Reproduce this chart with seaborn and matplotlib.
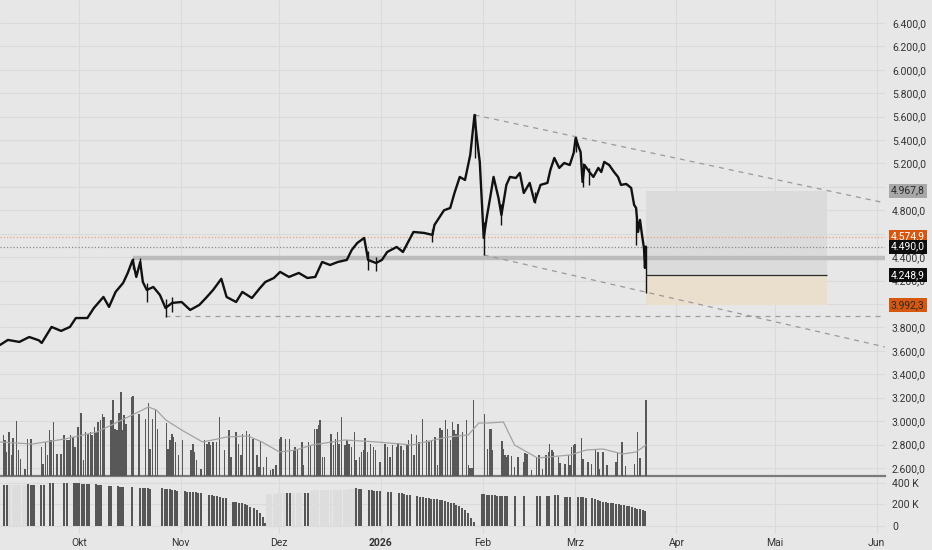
import numpy as np
import pandas as pd
import matplotlib
matplotlib.use('Agg')
import matplotlib.pyplot as plt
import seaborn as sns

# ---------------- data (x = days since 2025-09-07) ----------------
start_date = '2025-09-07'
month_dates = ['2025-10-01', '2025-11-01', '2025-12-01', '2026-01-01', '2026-02-01',
               '2026-03-01', '2026-04-01', '2026-05-01', '2026-06-01']
month_labels = ['Okt', 'Nov', 'Dez', '2026', 'Feb', 'Mrz', 'Apr', 'Mai', 'Jun']

price_days = [0, 2.4, 5.9, 8.9, 11.8, 12.7, 15.7, 18.6, 21.3, 23.1,
              26.6, 28.6, 31.5, 33.2, 35.2, 37.5, 38.9, 40.4, 41.5, 42.7,
              43.5, 44.7, 46.7, 48.7, 50.4, 52.4, 55.3, 57.9, 60.7, 62.7,
              64.9, 67.4, 69.0, 71.9, 73.8, 76.7, 79.2, 80.8, 83.4, 85.3,
              88.0, 91.0, 93.6, 96.0, 98.1, 100.5, 102.9, 105.6, 107.1, 108.8,
              110.9, 112.1, 114.5, 116.3, 117.9, 120.8, 122.7, 124.3, 125.9, 129.1,
              131.7, 132.3, 135.2, 137.1, 138.4, 140.0, 141.6, 143.2, 144.5, 145.1,
              146.1, 147.3, 148.2, 149.4, 150.3, 151.8, 152.7, 154.2, 155.3, 157.1,
              158.3, 159.5, 161.3, 162.8, 164.6, 166.7, 167.6, 168.8, 170.3, 171.8,
              173.5, 174.7, 175.3, 176.2, 176.8, 177.4, 178.0, 179.5, 180.7, 182.2,
              183.1, 184.0, 185.5, 187.0, 188.2, 189.1, 190.7, 192.2, 193.1, 193.7,
              194.3, 194.9, 195.5, 196.1, 196.4, 196.7]
price_close = [3650, 3693, 3676, 3718, 3690, 3667, 3804, 3770, 3804, 3880,
               3880, 3966, 4060, 3975, 4103, 4180, 4265, 4376, 4231, 4359,
               4188, 4120, 4145, 4077, 3966, 4009, 4017, 3949, 3992, 4051,
               4120, 4215, 4060, 4017, 4103, 4051, 4137, 4188, 4222, 4274,
               4231, 4265, 4222, 4231, 4359, 4333, 4359, 4376, 4461, 4521,
               4564, 4376, 4350, 4376, 4444, 4487, 4444, 4530, 4615, 4607,
               4590, 4675, 4800, 4820, 4948, 5085, 5059, 5273, 5614, 5443,
               5213, 4564, 4735, 4931, 5085, 4905, 4760, 5017, 5085, 5076,
               5119, 4948, 5034, 4871, 5017, 5034, 5145, 5247, 5162, 5204,
               5187, 5290, 5418, 5341, 5298, 5042, 5187, 5127, 5085, 5162,
               5127, 5213, 5187, 5127, 5085, 5017, 5025, 4991, 4846, 4820,
               4615, 4718, 4590, 4478, 4308, 4490]

wick_days = [40.4, 42.7, 44.7, 50.4, 52.4, 112.1, 114.5, 131.7, 144.5, 147.3,
             152.7, 162.8, 175.3, 177.4, 179.5, 193.7, 196.7]
wick_low = [4300, 4330, 4020, 3892, 3935, 4290, 4285, 4533, 5250, 4419,
            4675, 4863, 5300, 5000, 5017, 4500, 4094]
wick_high = [4390, 4393, 4180, 4040, 4060, 4450, 4400, 4640, 5620, 4700,
             4850, 4960, 5430, 5200, 5160, 4720, 4490]

vol_days = [1.0, 1.5, 2.0, 2.7, 3.5, 3.9, 5.1, 5.6, 6.2, 7.6,
            8.4, 9.4, 12.6, 13.1, 13.8, 14.5, 15.0, 15.5, 16.3, 17.3,
            18.6, 19.5, 20.4, 21.0, 21.5, 22.2, 22.9, 23.7, 24.7, 25.4,
            26.1, 26.8, 27.5, 28.0, 28.7, 29.3, 29.9, 30.6, 31.2, 31.6,
            33.8, 34.4, 35.0, 35.7, 36.2, 36.8, 37.3, 37.8, 38.4, 40.0,
            40.5, 42.4, 44.3, 45.2, 45.7, 46.5, 47.4, 47.9, 50.7, 51.2,
            51.8, 52.4, 52.9, 53.4, 54.3, 55.5, 58.2, 58.7, 59.1, 59.8,
            61.2, 62.2, 63.0, 63.6, 64.0, 64.9, 65.9, 66.8, 68.4, 69.7,
            70.4, 71.8, 72.6, 73.4, 73.9, 75.0, 76.0, 77.1, 78.2, 78.9,
            79.4, 80.3, 81.1, 82.4, 83.2, 84.0, 85.1, 85.6, 86.9, 88.1,
            89.4, 89.9, 90.6, 91.9, 92.5, 94.0, 94.5, 95.7, 96.5, 97.0,
            97.5, 98.2, 98.8, 100.8, 101.5, 102.2, 102.8, 103.3, 104.0, 105.0,
            105.6, 106.3, 107.0, 107.9, 108.4, 109.4, 110.1, 110.7, 111.1, 111.9,
            112.9, 113.7, 114.4, 115.7, 117.2, 118.0, 118.8, 119.6, 120.7, 121.2,
            122.1, 122.8, 123.9, 124.4, 125.3, 126.0, 126.8, 127.6, 128.7, 129.8,
            130.6, 131.4, 132.4, 133.2, 134.0, 134.6, 135.6, 136.2, 137.2, 137.8,
            138.3, 138.8, 139.4, 140.8, 142.0, 142.6, 143.1, 143.7, 144.2, 147.5,
            148.5, 149.0, 149.5, 150.0, 152.8, 153.3, 153.8, 154.2, 154.7, 155.7,
            156.7, 157.7, 159.5, 159.9, 160.5, 161.9, 163.4, 164.2, 165.2, 166.2,
            167.0, 167.4, 168.1, 168.6, 170.1, 170.6, 172.1, 173.1, 173.6, 174.1,
            174.6, 175.1, 177.1, 177.6, 179.1, 180.1, 181.4, 182.1, 182.6, 183.6,
            184.8, 187.6, 188.1, 189.4, 190.4, 193.2, 194.2, 194.9, 196.7]
vol_vals = [41, 36, 24, 44, 21, 38, 55, 26, 17, 7,
            37, 37, 29, 12, 34, 21, 46, 36, 54, 22,
            22, 41, 36, 36, 41, 39, 29, 49, 63, 16,
            44, 42, 44, 41, 49, 44, 54, 56, 62, 59,
            56, 76, 47, 46, 63, 84, 46, 61, 52, 79,
            80, 62, 57, 73, 27, 57, 66, 47, 53, 27,
            36, 42, 39, 34, 21, 36, 26, 32, 24, 16,
            7, 36, 32, 34, 31, 34, 34, 59, 26, 46,
            19, 44, 32, 21, 42, 45, 42, 37, 21, 9,
            34, 9, 19, 6, 7, 11, 37, 39, 37, 37,
            26, 29, 26, 34, 11, 34, 31, 47, 47, 51,
            56, 19, 19, 42, 31, 37, 44, 32, 59, 31,
            36, 32, 29, 44, 16, 19, 24, 26, 38, 24,
            32, 29, 26, 14, 32, 29, 19, 31, 29, 33,
            30, 26, 32, 36, 42, 21, 41, 34, 57, 36,
            34, 35, 39, 11, 48, 46, 56, 47, 36, 54,
            46, 42, 52, 44, 56, 11, 8, 8, 76, 62,
            27, 47, 47, 26, 35, 27, 21, 19, 21, 20,
            9, 19, 14, 23, 22, 6, 19, 21, 7, 21,
            24, 32, 26, 24, 19, 13, 12, 21, 11, 29,
            31, 32, 38, 17, 14, 12, 26, 24, 7, 24,
            11, 14, 23, 34, 10, 12, 44, 18, 76]

ma_days = [0, 9.9, 19.7, 29.5, 39.0, 45.2, 47.6, 50.5, 55.3, 61.7,
           69.1, 75.5, 79.8, 85.1, 90.1, 95.0, 105.0, 114.9, 125.5, 136.2,
           142.6, 145.8, 148.8, 153.3, 156.7, 163.7, 173.6, 178.6, 183.6, 189.6,
           193.7, 196.7]
ma_vals = [34, 32, 37, 44, 59, 69, 66, 56, 46, 34,
           39, 40, 34, 24, 26, 31, 36, 34, 31, 39,
           41, 53, 53, 54, 31, 18, 21, 26, 27, 22,
           24, 31]

oi_days = [1.2, 2.2, 8.6, 9.4, 10.2, 12.6, 13.5, 15.3, 16.2, 19.5,
           20.4, 22.5, 23.3, 24.1, 24.9, 25.6, 26.4, 27.2, 29.3, 30.0,
           30.8, 33.1, 33.9, 36.0, 36.7, 37.5, 40.2, 42.7, 43.4, 44.2,
           45.0, 45.7, 49.4, 50.1, 50.9, 51.7, 52.4, 53.2, 54.0, 56.2,
           57.0, 57.9, 58.7, 59.6, 60.4, 61.3, 63.6, 64.5, 65.3, 66.2,
           67.0, 67.9, 68.7, 71.1, 71.9, 72.8, 73.6, 74.5, 75.3, 76.2,
           77.4, 78.3, 79.1, 80.0, 80.8, 87.4, 88.3, 92.8, 93.7, 108.4,
           109.2, 110.0, 112.4, 113.2, 114.0, 114.8, 115.6, 118.3, 119.1, 121.4,
           122.3, 123.1, 124.0, 124.9, 127.1, 127.9, 128.8, 129.6, 130.5, 131.3,
           132.2, 133.0, 133.9, 134.7, 135.6, 136.5, 137.3, 138.2, 139.0, 139.9,
           140.8, 141.6, 142.4, 143.3, 144.2, 146.7, 147.4, 148.2, 149.0, 149.8,
           150.6, 151.4, 152.2, 153.0, 153.8, 154.5, 156.9, 159.7, 163.5, 164.3,
           166.5, 167.2, 169.0, 169.8, 172.0, 172.8, 173.6, 176.0, 176.8, 177.6,
           178.4, 180.4, 181.2, 182.0, 182.8, 183.6, 184.4, 185.2, 186.0, 186.8,
           187.6, 188.4, 189.2, 190.0, 190.8, 191.6, 192.4, 193.3, 194.1, 194.9,
           195.7, 196.5]
oi_vals = [381, 381, 388, 385, 383, 381, 381, 397, 397, 397,
           397, 397, 396, 395, 394, 393, 392, 391, 388, 385,
           381, 375, 375, 369, 367, 366, 363, 357, 356, 355,
           350, 347, 350, 347, 344, 340, 336, 332, 329, 322,
           320, 318, 315, 312, 308, 304, 288, 285, 281, 276,
           270, 264, 257, 226, 223, 217, 211, 205, 192, 180,
           164, 149, 118, 81, 31, 310, 310, 310, 310, 350,
           344, 341, 335, 332, 329, 326, 322, 316, 316, 310,
           304, 298, 291, 288, 279, 273, 267, 260, 257, 254,
           251, 248, 245, 242, 236, 226, 217, 211, 198, 186,
           165, 149, 118, 71, 40, 298, 295, 292, 289, 287,
           285, 283, 281, 279, 277, 275, 280, 280, 276, 276,
           279, 279, 285, 285, 273, 273, 273, 273, 273, 267,
           264, 257, 251, 242, 236, 226, 220, 217, 214, 211,
           208, 205, 198, 192, 189, 186, 180, 170, 161, 155,
           149, 143]
oi_faint_days = [3.0, 4.0, 5.0, 6.0, 7.0, 7.9, 81.5, 82.5, 83.5, 84.5, 85.5, 86.5,
                 89.5, 90.5, 91.5, 94.8, 95.8, 96.8, 97.8, 98.8, 99.8, 100.8,
                 101.8, 102.8, 103.8, 104.8, 105.8, 106.8, 107.6]
oi_faint_vals = [381, 381, 381, 381, 381, 381, 300, 301, 302, 303, 304, 306,
                 308, 309, 309, 325, 330, 331, 332, 333, 334, 335,
                 336, 337, 338, 339, 340, 341, 342]

# drawings
peak_day, peak_price = 144.5, 5614
low_day, low_price = 147.3, 4419
trend_end_day = 269.5
upper_end_price, lower_end_price = 4863, 3633
support_price, support_start = 4393, 40.4
floor_price, floor_start = 3898, 50.1
last_price, orange_level = 4490.0, 4574.9
entry_price, target_price, stop_price = 4248.9, 4967.8, 3992.3
pos_start, pos_end = 196.7, 251.8

marker_prices = [4967.8, 4574.9, 4490.0, 4248.9, 3992.3]
marker_fc = ['#a8a8a8', '#d6570f', '#0d0d0d', '#0d0d0d', '#d6570f']
marker_tc = ['#2a2a2a', '#ffffff', '#ffffff', '#ffffff', '#2a2a2a']

# ---------------- plotting ----------------
sns.set_theme(style='white')
plt.rcParams['font.family'] = ['Roboto', 'DejaVu Sans']

BG = '#e7e7e7'
GRID = '#dadada'
W, H = 932, 550
fig = plt.figure(figsize=(W / 100, H / 100), dpi=100, facecolor=BG)
ax = fig.add_axes([0, 1 - 476 / H, 885 / W, 476 / H], facecolor=BG)
ax_oi = fig.add_axes([0, 1 - 534 / H, 885 / W, (534 - 478) / H], facecolor=BG)

start = pd.Timestamp(start_date)
month_ticks = [(pd.Timestamp(d) - start).days for d in month_dates]
xlim = (0, trend_end_day)


def de(v):
    s = f"{v:,.1f}"
    return s.replace(',', 'X').replace('.', ',').replace('X', '.')


# volume overlay (twin axis)
axv = ax.twinx()
ax.yaxis.tick_right()
axv.bar(vol_days, vol_vals, width=0.45, color='#585858', linewidth=0, zorder=2)
sns.lineplot(x=ma_days, y=ma_vals, ax=axv, color='#a3a3a3', lw=0.9, estimator=None, sort=False)
axv.set_ylim(0, 476)
axv.set_yticks([])
axv.set_xlim(*xlim)
for s in axv.spines.values():
    s.set_visible(False)

# position box
ax.fill_between([pos_start, pos_end], entry_price, target_price, color='#dbdbdb', lw=0, zorder=1)
ax.fill_between([pos_start, pos_end], stop_price, entry_price, color='#eadfcd', lw=0, zorder=1)
ax.hlines(entry_price, pos_start, pos_end, color='#2a2a2a', lw=0.9, zorder=3)

# levels
ax.hlines(support_price, support_start, trend_end_day, color='#bcbcbc', lw=3.2, zorder=2)
ax.axhline(last_price, color='#8a8a8a', lw=0.9, ls=(0, (1, 1.6)), zorder=2)
ax.axhline(orange_level, color='#eaa27c', lw=0.9, ls=(0, (1, 1.6)), zorder=2)
ax.hlines(floor_price, floor_start, trend_end_day, color='#9c9c9c', lw=0.9, ls=(0, (4, 4)), zorder=2)
ax.plot([peak_day, trend_end_day], [peak_price, upper_end_price], color='#9a9a9a', lw=0.9, ls=(0, (4, 4)), zorder=2)
ax.plot([low_day, trend_end_day], [low_price, lower_end_price], color='#9a9a9a', lw=0.9, ls=(0, (4, 4)), zorder=2)

# price
pdf = pd.DataFrame({'day': price_days, 'close': price_close})
sns.lineplot(data=pdf, x='day', y='close', ax=ax, color='#111111', lw=1.7,
             estimator=None, sort=False, zorder=6)
ax.vlines(wick_days, wick_low, wick_high, color='#111111', lw=1.0, zorder=6)

ax.set_xlim(*xlim)
ax.set_ylim(2531, 6596)
ticks = np.arange(2600, 6401, 200)
ax.set_yticks(ticks)
ax.set_yticklabels([de(v) for v in ticks])
ax.set_xticks(month_ticks)
ax.tick_params(axis='x', length=0, labelbottom=False)
ax.tick_params(axis='y', length=0, pad=5, labelsize=7.5, labelcolor='#333333',
               right=True, labelright=True, left=False, labelleft=False)
ax.grid(True, color=GRID, lw=0.8)
ax.set_axisbelow(True)
ax.set_xlabel('')
ax.set_ylabel('')
for k, s in ax.spines.items():
    s.set_visible(k == 'bottom')
ax.spines['bottom'].set_color('#7a7a7a')
ax.spines['bottom'].set_linewidth(1.6)

for p, fc, tc in zip(marker_prices, marker_fc, marker_tc):
    ax.annotate(de(p), xy=(1, p), xycoords=('axes fraction', 'data'), xytext=(4.2, 0),
                textcoords='offset points', ha='left', va='center', fontsize=7.5, color=tc,
                bbox=dict(boxstyle='square,pad=0.2', fc=fc, ec='none'),
                annotation_clip=False, zorder=20)

# open interest pane
ax_oi.bar(oi_faint_days, oi_faint_vals, width=0.9, color='#dddddd', linewidth=0, zorder=1)
ax_oi.bar(oi_days, oi_vals, width=0.62, color='#565656', linewidth=0, zorder=2)
ax_oi.set_xlim(*xlim)
ax_oi.set_ylim(-74, 446)
ax_oi.set_yticks([0, 200, 400])
ax_oi.set_yticklabels(['0', '200 K', '400 K'])
ax_oi.yaxis.tick_right()
ax_oi.set_xticks(month_ticks)
ax_oi.set_xticklabels(month_labels)
ax_oi.tick_params(axis='x', length=0, pad=3, labelsize=7.5, labelcolor='#333333')
ax_oi.tick_params(axis='y', length=0, pad=5, labelsize=7.5, labelcolor='#333333')
for lab in ax_oi.get_xticklabels():
    if lab.get_text() == '2026':
        lab.set_fontweight('bold')
ax_oi.grid(True, color=GRID, lw=0.8)
ax_oi.set_axisbelow(True)
for s in ax_oi.spines.values():
    s.set_visible(False)

fig.savefig('out.png', dpi=100, facecolor=BG)
